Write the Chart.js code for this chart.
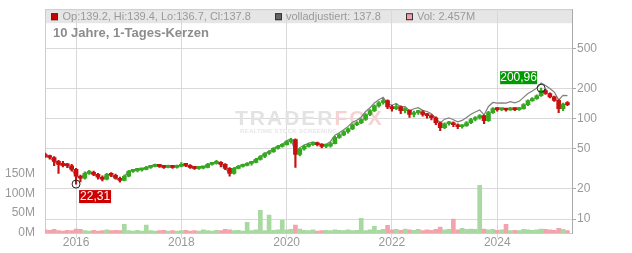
<!DOCTYPE html>
<html>
<head>
<meta charset="utf-8">
<script src="https://cdn.jsdelivr.net/npm/chart.js@4.4.0/dist/chart.umd.min.js"></script>
<style>
html, body { margin: 0; padding: 0; background: #fff; }
canvas { display: block; }
</style>
</head>
<body>
<canvas id="chart" width="632" height="253"></canvas>
<script>
// ================= DATA (monthly candles) =================
const months = [
    "2015-06","2015-07","2015-08","2015-09","2015-10","2015-11","2015-12",
    "2016-01","2016-02","2016-03","2016-04","2016-05","2016-06","2016-07","2016-08","2016-09","2016-10","2016-11","2016-12",
    "2017-01","2017-02","2017-03","2017-04","2017-05","2017-06","2017-07","2017-08","2017-09","2017-10","2017-11","2017-12",
    "2018-01","2018-02","2018-03","2018-04","2018-05","2018-06","2018-07","2018-08","2018-09","2018-10","2018-11","2018-12",
    "2019-01","2019-02","2019-03","2019-04","2019-05","2019-06","2019-07","2019-08","2019-09","2019-10","2019-11","2019-12",
    "2020-01","2020-02","2020-03","2020-04","2020-05","2020-06","2020-07","2020-08","2020-09","2020-10","2020-11","2020-12",
    "2021-01","2021-02","2021-03","2021-04","2021-05","2021-06","2021-07","2021-08","2021-09","2021-10","2021-11","2021-12",
    "2022-01","2022-02","2022-03","2022-04","2022-05","2022-06","2022-07","2022-08","2022-09","2022-10","2022-11","2022-12",
    "2023-01","2023-02","2023-03","2023-04","2023-05","2023-06","2023-07","2023-08","2023-09","2023-10","2023-11","2023-12",
    "2024-01","2024-02","2024-03","2024-04","2024-05","2024-06","2024-07","2024-08","2024-09","2024-10","2024-11","2024-12",
    "2025-01","2025-02","2025-03","2025-04","2025-05"
];

const opens = [
    44,42,41,37.5,35,34.2,34,
    31.2,26.7,25.5,28.5,29.2,27.9,26.1,24.9,27.9,27.3,25.5,24.3,
    26.7,29.9,30.5,30.9,31.2,32.7,33.5,34.2,33.5,32.7,33.5,32.7,
    33.5,35,34.2,32.7,32,32.3,32.7,35,35.8,36.7,35,32,
    28.5,32,33.5,34.2,35.8,36.7,39.3,42,45,47,50.5,53,
    55.2,59,62,44,50,53,55.2,56.5,55,53,53.6,56.5,
    65,69,74,79,87,91,98,110,120,134,144,151,
    131,126,131,120,121,110,115,117,110,107,102,91,
    81.5,89,91,87,83,85,91,98,102,107,95.5,115,
    126,123,124,122,126,123,126,138,151,158,169,190,
    178,165,152,126,140
];

const highs = [
    45.5,43.5,42,38.5,37.5,36,35,
    32,27.5,29.5,30.5,30,28.6,27,28.6,29,28,26.2,27.5,
    30.5,31.3,31.5,32,33.5,34.3,35.2,34.8,34.2,34.5,34,34.4,
    36.5,35.6,34.8,33.4,33,33.6,35.8,36.8,38.5,37.3,35.6,32.6,
    32.6,34.2,35.2,36.6,37.5,40.2,43,46,48.2,51.6,54.2,56.5,
    60.5,63.5,63,51,54.5,57,58,58.5,56.5,55.5,58,66.5,
    71,76,81,89,93.5,100,112.5,123,137,147.5,156,154,
    136,139,134,128,122.5,119,121,120,113,110,104,93,
    91,94,93,89,87.5,93.5,101,105,110,108.5,118,129,
    128.5,127,127,129.5,128,129,141,154,162,173,200.96,196,
    181,168,155,143,148
];

const lows = [
    41,39.5,34,28.5,33,32.5,30,
    22.31,23.5,25,27.8,27,25,24,24.5,26.5,25,23.3,24,
    26.3,29.2,29.5,30,30.8,32,33,32.6,32,32.3,32,32.2,
    33,33.2,32,31.2,31.3,31.5,32.3,34.4,35.2,33,31,26.7,
    28,31.5,32.8,33.8,34.5,36.2,38.5,40.8,44,46.2,49.6,52,
    54.5,57,32.7,42.5,48.5,52,54,53.5,51,51.5,52,56,
    63.5,67.5,71.5,77.5,85,89,96,107,117.5,130,139,126,
    119,123,112,114,103,104,110,106,101,97,87,76,
    79.5,86,83,79.5,80.5,83.5,89,95,99,89,94,113,
    119,120,119,121,120,121,124,135,148,155,166,174,
    161,148,115,120,135
];

const closes = [
    42,41,37.5,35,34.2,34,31.2,
    26.7,25.5,28.5,29.2,27.9,26.1,24.9,27.9,27.3,25.5,24.3,26.7,
    29.9,30.5,30.9,31.2,32.7,33.5,34.2,33.5,32.7,33.5,32.7,33.5,
    35,34.2,32.7,32,32.3,32.7,35,35.8,36.7,35,32,28.5,
    32,33.5,34.2,35.8,36.7,39.3,42,45,47,50.5,53,55.2,
    59,62,44,50,53,55.2,56.5,55,53,53.6,56.5,65,
    69,74,79,87,91,98,110,120,134,144,151,131,
    126,131,120,121,110,115,117,110,107,102,91,81.5,
    89,91,87,83,85,91,98,102,107,95.5,115,126,
    123,124,122,126,123,126,138,151,158,169,190,178,
    165,152,126,140,137.8
];

// "volladjustiert" line
const adjusted = [
    42,41,37.5,35,34.2,34,31.2,
    26.7,25.5,28.5,29.2,27.9,26.1,24.9,27.9,27.3,25.5,24.3,26.7,
    29.9,30.5,30.9,31.2,32.7,33.5,34.2,33.5,32.7,33.5,32.7,33.5,
    35,34.2,32.7,32,32.3,32.7,35,35.8,36.7,35,32,28.5,
    32,33.5,34.2,35.8,36.7,39.3,42,45,47,50.5,53,55.2,
    60.2,63.2,45.3,51.5,54.6,56.9,58.8,57.2,55.1,55.7,59.3,68.3,
    72.5,77.7,83.7,92.2,96.5,103.9,117.7,128.4,143.4,154.1,163.1,141.5,
    136.1,141.5,130.8,131.9,119.9,125.4,128.7,121,117.7,112.2,101,90.5,
    98.8,101.9,97.4,93,96,102.8,110.7,116.3,122,108.9,132.3,144.9,
    142.7,143.8,142.7,147.4,143.9,148.7,162.8,178.2,188,201.1,226.1,213.6,
    199.7,183.9,153.7,170.8,169.5
];

// volume in millions
const volumes = [
    8,7,9,6,5,7,6,
    10,9,6,5,7,5,6,8,6,7,6,22,
    6,5,7,5,20,6,5,6,7,5,6,5,
    6,7,5,6,5,8,6,5,7,6,9,8,
    6,7,5,27,6,8,57,6,45,7,8,32,
    8,9,20,10,7,6,8,5,6,7,6,8,
    7,6,8,6,7,37,6,8,17,7,9,19,
    8,9,7,10,8,7,9,6,8,7,9,15,
    8,9,35,8,12,9,10,9,120,10,8,9,
    7,8,22,6,7,6,9,8,7,8,10,9,
    8,7,12,9,6
];

const xTicks = [2016, 2018, 2020, 2022, 2024];
const priceTicks = [10, 20, 50, 100, 200, 500];
const volTicks = [0, 50, 100, 150];

const legendText = ["Op:139.2, Hi:139.4, Lo:136.7, Cl:137.8", "volladjustiert: 137.8", "Vol: 2.457M"];
const titleText = "10 Jahre, 1-Tages-Kerzen";


// ================= HELPERS =================
const FONT = "'Liberation Sans', Arial, sans-serif";
const GREEN = "#35a820";
const RED = "#c81010";

// month string -> fractional year for the linear x axis
const tx = months.map(m => {
    const p = m.split("-");
    return +p[0] + (p[1] - 1) / 12;
});
const up = closes.map((c, i) => c >= opens[i]);

const lowIdx = lows.indexOf(Math.min(...lows));
const highIdx = highs.indexOf(Math.max(...highs));
const deNum = v => v.toFixed(2).replace(".", ",");


// ================= DECORATION PLUGIN =================
const decor = {
    id: "decor",
    beforeDraw(chart) {
        const { ctx, chartArea: a } = chart;
        ctx.save();
        ctx.fillStyle = "#e6e6e6";
        ctx.fillRect(a.left, a.top, a.right - a.left, 14);
        ctx.strokeStyle = "#cccccc";
        ctx.lineWidth = 1;
        ctx.beginPath();
        ctx.moveTo(a.left, a.top + 0.5);
        ctx.lineTo(a.right, a.top + 0.5);
        ctx.stroke();
        ctx.restore();
    },
    beforeDatasetsDraw(chart) {
        // watermark
        const { ctx } = chart;
        ctx.save();
        ctx.font = "bold 21px " + FONT;
        ctx.letterSpacing = "2px";
        ctx.textBaseline = "alphabetic";
        ctx.fillStyle = "#e3e3e3";
        ctx.fillText("TRADER", 235, 125);
        const w = ctx.measureText("TRADER").width;
        ctx.fillStyle = "#f6d3d3";
        ctx.fillText("FOX", 235 + w, 125);
        ctx.font = "bold 6px " + FONT;
        ctx.letterSpacing = "0px";
        const sub = "REALTIME STOCK SCREENING";
        const w0 = ctx.measureText(sub).width;
        ctx.letterSpacing = ((97 - w0) / (sub.length - 1)).toFixed(2) + "px";
        ctx.fillStyle = "#e6e6e6";
        ctx.fillText(sub, 240, 133);
        ctx.restore();
    },
    afterDatasetsDraw(chart) {
        const { ctx } = chart;
        const xs = chart.scales.x, ps = chart.scales.p;
        ctx.save();
        ctx.font = "12px " + FONT;
        ctx.textBaseline = "middle";
        ctx.textAlign = "center";

        // low marker
        let cx = xs.getPixelForValue(tx[lowIdx]);
        let cy = ps.getPixelForValue(lows[lowIdx]);
        ctx.strokeStyle = "#222";
        ctx.lineWidth = 1;
        ctx.beginPath();
        ctx.arc(cx, cy, 4, 0, Math.PI * 2);
        ctx.stroke();
        ctx.fillStyle = "#cc0000";
        ctx.fillRect(cx + 3, cy + 6, 32, 13);
        ctx.fillStyle = "#fff";
        ctx.fillText(deNum(lows[lowIdx]), cx + 19, cy + 13);

        // high marker
        cx = xs.getPixelForValue(tx[highIdx]);
        cy = ps.getPixelForValue(highs[highIdx]);
        ctx.beginPath();
        ctx.arc(cx, cy, 4, 0, Math.PI * 2);
        ctx.stroke();
        ctx.fillStyle = "#009900";
        ctx.fillRect(cx - 41, cy - 17, 37, 13);
        ctx.fillStyle = "#fff";
        ctx.fillText(deNum(highs[highIdx]), cx - 22.5, cy - 10.5);
        ctx.restore();
    },
    afterDraw(chart) {
        const { ctx, chartArea: a } = chart;
        ctx.save();
        // legend band
        const items = [
            { sq: 51, tx: 62.5, fill: "#cc0000" },
            { sq: 275, tx: 286, fill: "#666666" },
            { sq: 406, tx: 417, fill: "#f0a0a8" }
        ];
        ctx.font = "11px " + FONT;
        ctx.textBaseline = "middle";
        items.forEach((it, i) => {
            ctx.fillStyle = it.fill;
            ctx.fillRect(it.sq, a.top + 4, 7, 7);
            ctx.strokeStyle = "#333";
            ctx.lineWidth = 1;
            ctx.strokeRect(it.sq + 0.5, a.top + 4.5, 6, 6);
            ctx.fillStyle = "#999";
            ctx.fillText(legendText[i], it.tx, a.top + 8);
        });

        // title
        ctx.font = "bold 13px " + FONT;
        ctx.textBaseline = "alphabetic";
        ctx.fillStyle = "#8c8c8c";
        ctx.fillText(titleText, 53, 37);
        ctx.restore();
    }
};


// ================= CHART =================
const tickFont = { family: FONT, size: 12 };

new Chart(document.getElementById("chart"), {
    type: "bar",
    data: {
        datasets: [
            {
                label: "Kerzen",
                data: tx.map((t, i) => ({ x: t, y: [opens[i], closes[i]] })),
                backgroundColor: up.map(u => u ? GREEN : RED),
                barThickness: 4,
                minBarLength: 2,
                grouped: false,
                yAxisID: "p",
                order: 1
            },
            {
                label: "Dochte",
                data: tx.map((t, i) => ({ x: t, y: [lows[i], highs[i]] })),
                backgroundColor: up.map(u => u ? GREEN : RED),
                barThickness: 1.5,
                grouped: false,
                yAxisID: "p",
                order: 2
            },
            {
                type: "line",
                label: "volladjustiert",
                data: tx.map((t, i) => ({ x: t, y: adjusted[i] })),
                borderColor: "#7f7f7f",
                borderWidth: 1.2,
                pointRadius: 0,
                tension: 0,
                yAxisID: "p",
                order: 3
            },
            {
                label: "Vol",
                data: tx.map((t, i) => ({ x: t, y: volumes[i] })),
                backgroundColor: up.map(u => u ? "#a7d9a0" : "#f2a4ac"),
                barThickness: 4,
                grouped: false,
                yAxisID: "v",
                order: 4
            }
        ]
    },
    options: {
        responsive: false,
        animation: false,
        layout: { padding: { top: 8, left: 0, right: 0, bottom: 0 } },
        plugins: {
            legend: { display: false },
            tooltip: { enabled: false }
        },
        scales: {
            x: {
                type: "linear",
                min: 2015.41,
                max: 2025.42,
                offset: false,
                grid: { color: "#d9d9d9", tickLength: 5, offset: false },
                border: { color: "#cccccc" },
                ticks: {
                    color: "#999",
                    font: tickFont,
                    padding: -3,
                    maxRotation: 0,
                    callback: v => String(v)
                },
                afterBuildTicks: s => { s.ticks = xTicks.map(v => ({ value: v })); },
                afterFit: s => { s.height = 20; }
            },
            p: {
                type: "logarithmic",
                position: "right",
                min: 7.27,
                max: 1229,
                grid: { color: "#d9d9d9", tickColor: "#aaaaaa", tickLength: 4 },
                border: { color: "#aaaaaa" },
                ticks: {
                    color: "#999",
                    font: tickFont,
                    padding: 1,
                    callback: v => String(v)
                },
                afterBuildTicks: s => { s.ticks = priceTicks.map(v => ({ value: v })); },
                afterFit: s => { s.width = 60; }
            },
            v: {
                type: "linear",
                position: "left",
                min: 0,
                max: 562.5,
                grid: { display: false },
                border: { display: true, color: "#cccccc" },
                ticks: {
                    color: "#999",
                    font: tickFont,
                    padding: 2,
                    callback: v => v + "M"
                },
                afterBuildTicks: s => { s.ticks = volTicks.map(v => ({ value: v })); },
                afterFit: s => { s.width = 45; }
            }
        }
    },
    plugins: [decor]
});
</script>
</body>
</html>
